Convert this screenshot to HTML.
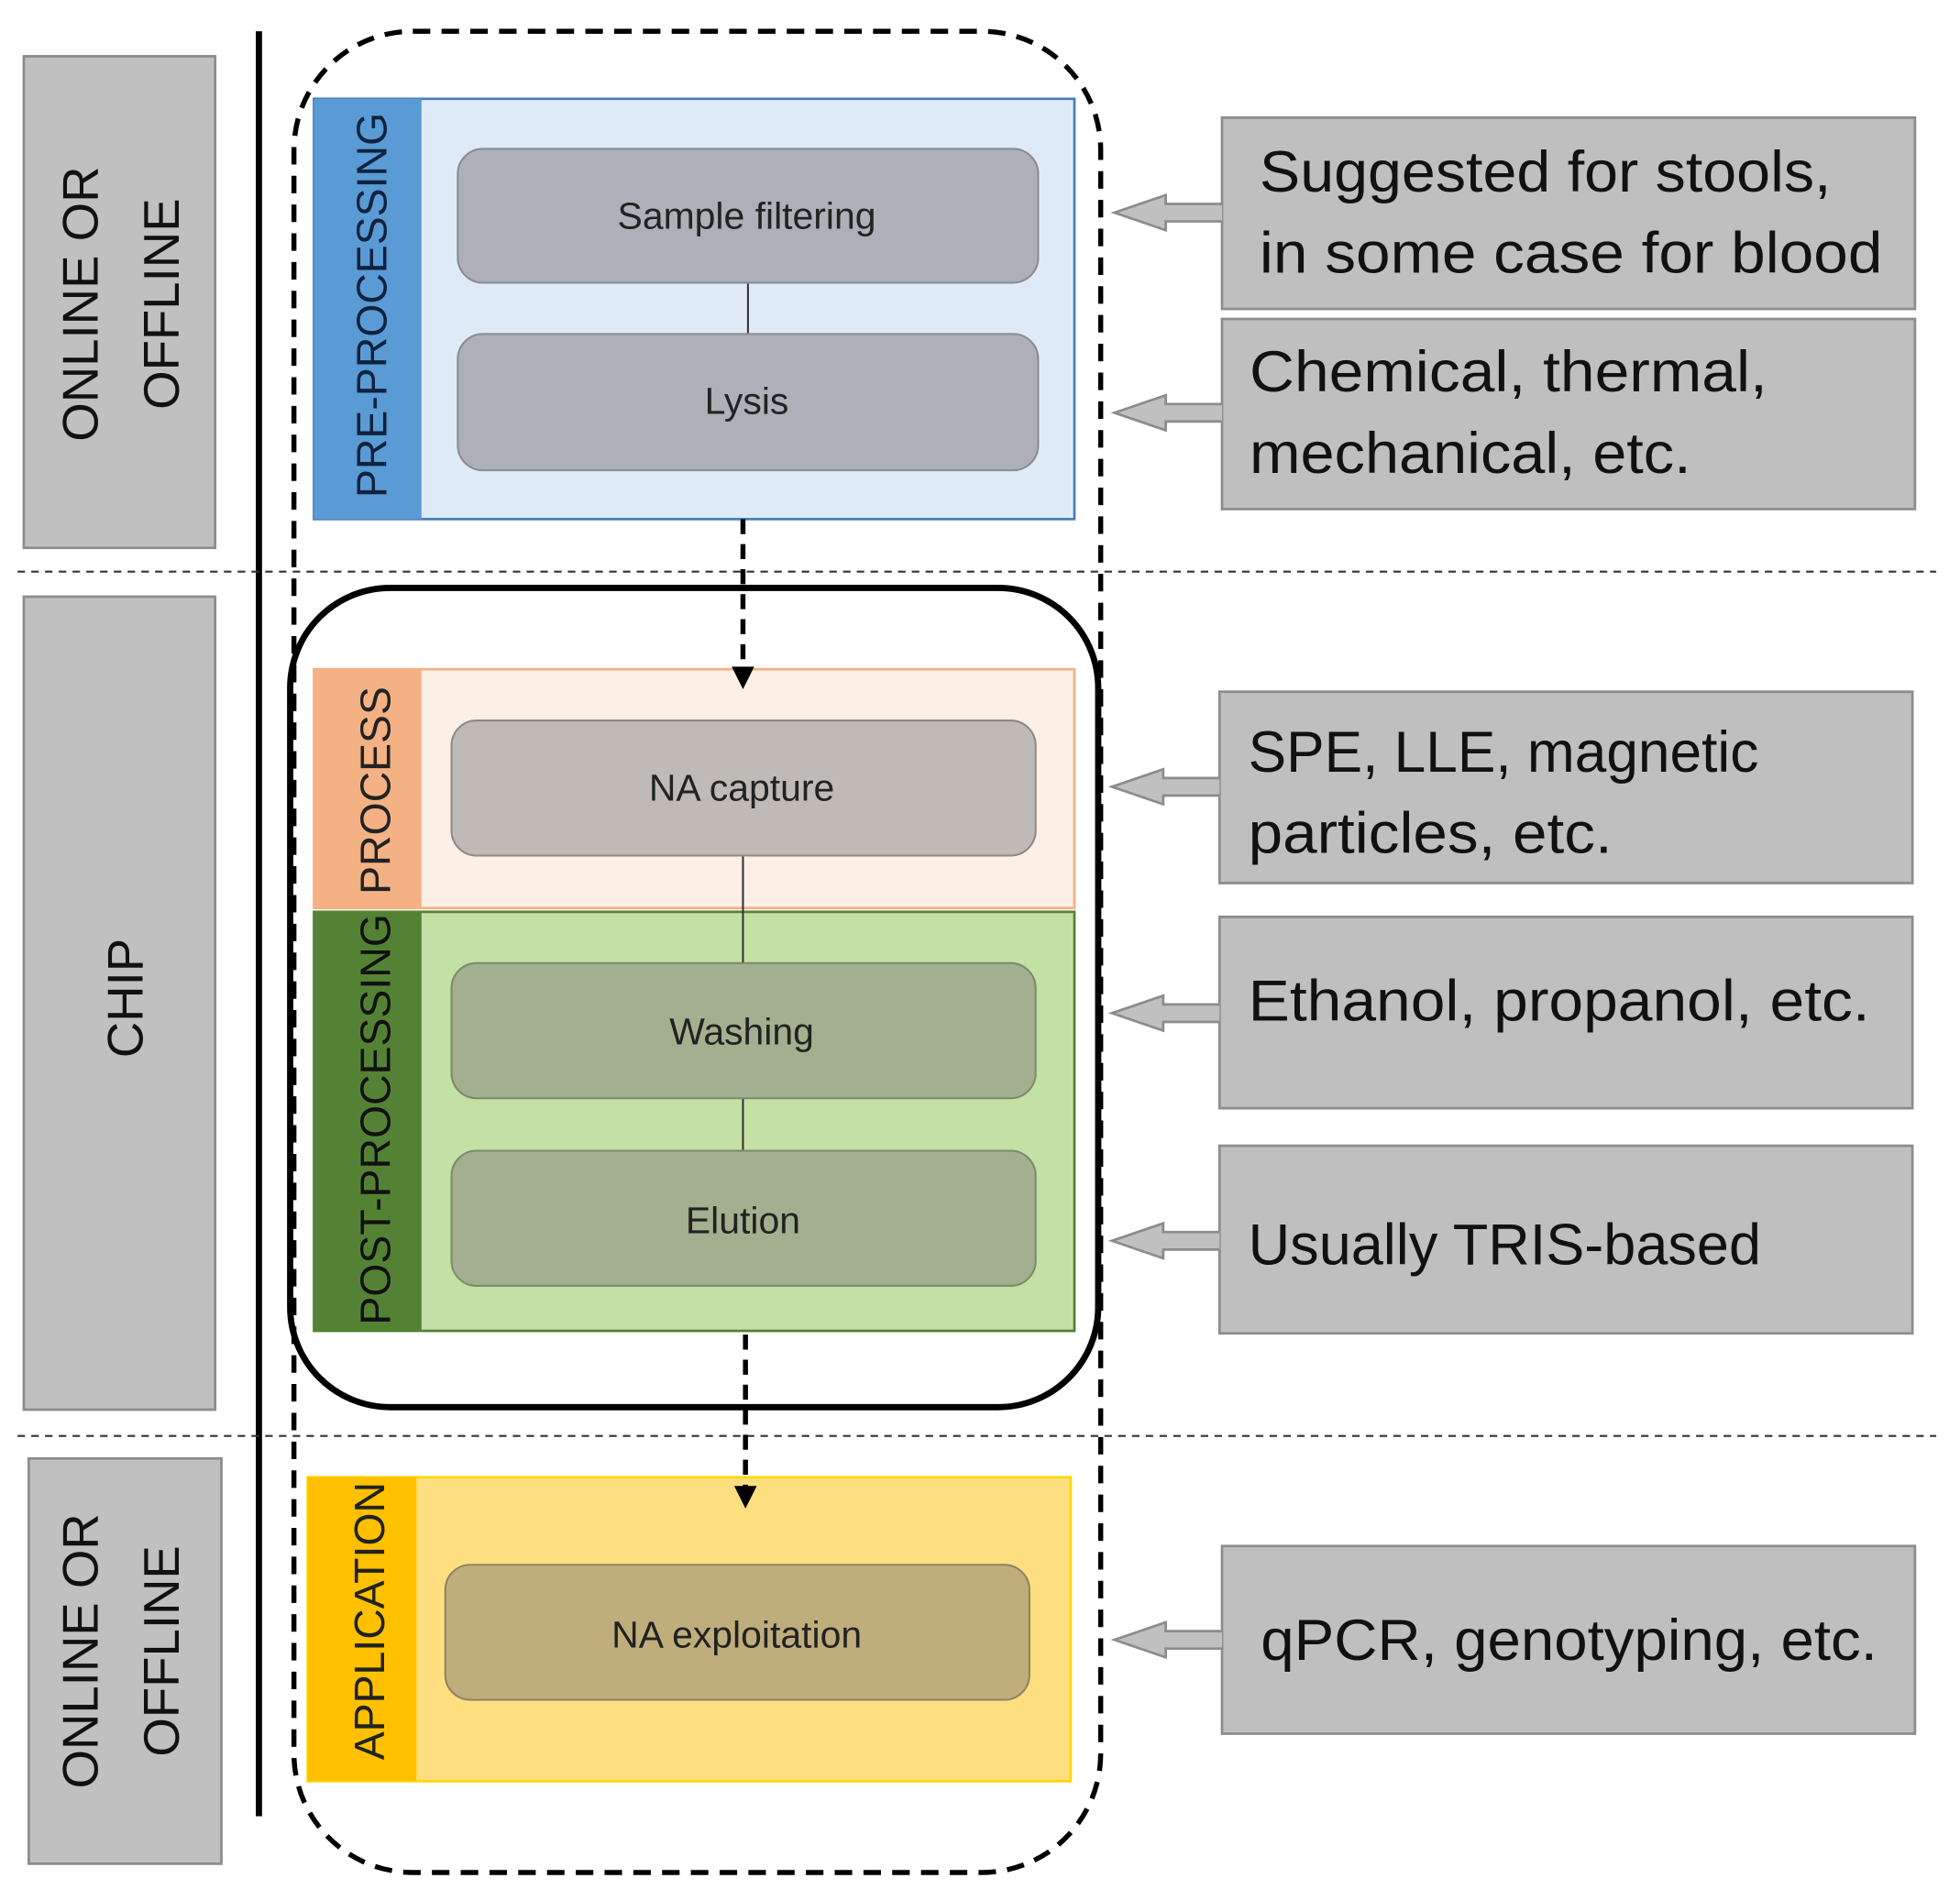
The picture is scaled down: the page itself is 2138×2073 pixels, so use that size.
<!DOCTYPE html>
<html><head><meta charset="utf-8"><style>
html,body{margin:0;padding:0;background:#fff;}
svg{display:block;}
text{font-family:"Liberation Sans",sans-serif;}
</style></head><body>
<svg width="2138" height="2073" viewBox="0 0 1567 1519" preserveAspectRatio="none" xmlns="http://www.w3.org/2000/svg">
<!-- left labels -->
<rect x="19" y="45" width="153" height="393" fill="#c0c0c0" stroke="#8c8c8c" stroke-width="2"/>
<rect x="19" y="477" width="153" height="650" fill="#c0c0c0" stroke="#8c8c8c" stroke-width="2"/>
<rect x="23" y="1166" width="154" height="324" fill="#c0c0c0" stroke="#8c8c8c" stroke-width="2"/>
<g font-size="40" fill="#111" text-anchor="middle">
<text transform="translate(78,243) rotate(-90)">ONLINE OR</text>
<text transform="translate(143,243) rotate(-90)">OFFLINE</text>
<text transform="translate(114,798) rotate(-90)">CHIP</text>
<text transform="translate(78,1320) rotate(-90)">ONLINE OR</text>
<text transform="translate(143,1320) rotate(-90)">OFFLINE</text>
</g>
<line x1="207" y1="25" x2="207" y2="1452" stroke="#000" stroke-width="5"/>
<line x1="14" y1="457" x2="1548" y2="457" stroke="#333" stroke-width="1.5" stroke-dasharray="6,5"/>
<line x1="14" y1="1148" x2="1548" y2="1148" stroke="#333" stroke-width="1.5" stroke-dasharray="6,5"/>

<!-- pre-processing -->
<rect x="251" y="79" width="608" height="336" fill="#deebf7" stroke="#4a7ebb" stroke-width="2"/>
<rect x="251" y="79" width="86" height="336" fill="#5b9bd5"/>
<text transform="translate(309,244) rotate(-90)" font-size="34" fill="#10223f" text-anchor="middle">PRE-PROCESSING</text>
<line x1="598" y1="226" x2="598" y2="267" stroke="#333" stroke-width="1.5"/>
<rect x="366" y="119" width="464" height="107" rx="20" fill="#adb0b6" stroke="#8a8c90" stroke-width="1.5"/>
<rect x="366" y="267" width="464" height="109" rx="20" fill="#adb0b6" stroke="#8a8c90" stroke-width="1.5"/>
<g font-size="30" fill="#222" text-anchor="middle">
<text x="597" y="183">Sample filtering</text>
<text x="597" y="331">Lysis</text>
</g>

<!-- process / post -->
<rect x="251" y="535" width="608" height="191" fill="#fcefe6" stroke="#f4b183" stroke-width="2"/>
<rect x="251" y="535" width="86" height="191" fill="#f4b183"/>
<text transform="translate(312,632) rotate(-90)" font-size="34" fill="#222" text-anchor="middle">PROCESS</text>
<rect x="251" y="729" width="608" height="335" fill="#c5e0a5" stroke="#548235" stroke-width="2"/>
<rect x="251" y="729" width="86" height="335" fill="#548235"/>
<text transform="translate(312,895) rotate(-90)" font-size="34" fill="#111" text-anchor="middle">POST-PROCESSING</text>
<line x1="594" y1="684" x2="594" y2="770" stroke="#333" stroke-width="1.5"/>
<line x1="594" y1="878" x2="594" y2="920" stroke="#333" stroke-width="1.5"/>
<rect x="361" y="576" width="467" height="108" rx="20" fill="#bfbab5" stroke="#8e8a86" stroke-width="1.5"/>
<rect x="361" y="770" width="467" height="108" rx="20" fill="#a2b08f" stroke="#7d8a6c" stroke-width="1.5"/>
<rect x="361" y="920" width="467" height="108" rx="20" fill="#a2b08f" stroke="#7d8a6c" stroke-width="1.5"/>
<g font-size="30" fill="#222" text-anchor="middle">
<text x="593" y="640">NA capture</text>
<text x="593" y="835">Washing</text>
<text x="594" y="986">Elution</text>
</g>

<!-- application -->
<rect x="246" y="1181" width="610" height="243" fill="#fedf80" stroke="#ffd700" stroke-width="2"/>
<rect x="246" y="1181" width="87" height="243" fill="#ffc000"/>
<text transform="translate(307,1296) rotate(-90)" font-size="34" fill="#222" text-anchor="middle">APPLICATION</text>
<rect x="356" y="1251" width="467" height="108" rx="20" fill="#bfae7c" stroke="#8f8360" stroke-width="1.5"/>
<text x="589" y="1317" font-size="30" fill="#222" text-anchor="middle">NA exploitation</text>

<!-- big outlines -->
<rect x="235" y="25" width="645" height="1472" rx="95" fill="none" stroke="#000" stroke-width="4" stroke-dasharray="14,9"/>
<rect x="232" y="470" width="646" height="655" rx="80" fill="none" stroke="#000" stroke-width="5"/>

<!-- dashed arrows -->
<line x1="594" y1="415" x2="594" y2="535" stroke="#000" stroke-width="4" stroke-dasharray="12,8"/>
<polygon points="585,533 603,533 594,551" fill="#000"/>
<line x1="596" y1="1067" x2="596" y2="1190" stroke="#000" stroke-width="4" stroke-dasharray="12,8"/>
<polygon points="587,1188 605,1188 596,1206" fill="#000"/>

<!-- right boxes -->
<g fill="#bfbfbf" stroke="#8c8c8c" stroke-width="2">
<rect x="977" y="94" width="554" height="153"/>
<rect x="977" y="255" width="554" height="152"/>
<rect x="975" y="553" width="554" height="153"/>
<rect x="975" y="733" width="554" height="153"/>
<rect x="975" y="916" width="554" height="150"/>
<rect x="977" y="1236" width="554" height="150"/>
</g>
<g fill="#c0c0c0" stroke="#8c8c8c" stroke-width="2">
<path d="M977,163 L932,163 L932,156 L891,170 L932,184 L932,177 L977,177"/>
<path d="M977,323 L932,323 L932,316 L891,330 L932,344 L932,337 L977,337"/>
<path d="M975,622 L930,622 L930,615 L889,629 L930,643 L930,636 L975,636"/>
<path d="M975,803 L930,803 L930,796 L889,810 L930,824 L930,817 L975,817"/>
<path d="M975,985 L930,985 L930,978 L889,992 L930,1006 L930,999 L975,999"/>
<path d="M977,1304 L932,1304 L932,1297 L891,1311 L932,1325 L932,1318 L977,1318"/>
</g>
<g font-size="46" fill="#111">
<text x="1007" y="153" textLength="457" lengthAdjust="spacingAndGlyphs">Suggested for stools,</text>
<text x="1007" y="218" textLength="498" lengthAdjust="spacingAndGlyphs">in some case for blood</text>
<text x="999" y="313" textLength="414" lengthAdjust="spacingAndGlyphs">Chemical, thermal,</text>
<text x="999" y="378" textLength="353" lengthAdjust="spacingAndGlyphs">mechanical, etc.</text>
<text x="998" y="617" textLength="408" lengthAdjust="spacingAndGlyphs">SPE, LLE, magnetic</text>
<text x="998" y="682" textLength="291" lengthAdjust="spacingAndGlyphs">particles, etc.</text>
<text x="998" y="816" textLength="497" lengthAdjust="spacingAndGlyphs">Ethanol, propanol, etc.</text>
<text x="998" y="1011" textLength="410" lengthAdjust="spacingAndGlyphs">Usually TRIS-based</text>
<text x="1008" y="1327" textLength="493" lengthAdjust="spacingAndGlyphs">qPCR, genotyping, etc.</text>
</g>
</svg>
</body></html>
